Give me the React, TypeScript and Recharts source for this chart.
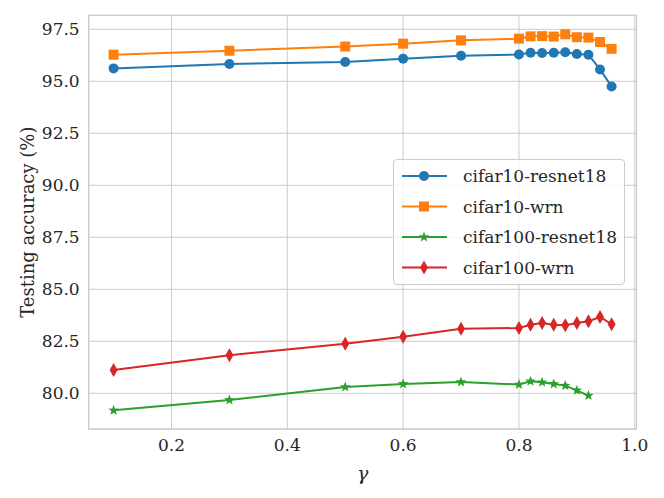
import { CartesianGrid, Legend, Line, LineChart, ReferenceArea, XAxis, YAxis } from "recharts";

const gammas = [0.1, 0.3, 0.5, 0.6, 0.7, 0.8, 0.82, 0.84, 0.86, 0.88, 0.9, 0.92, 0.94, 0.96];
const cifar10Resnet18 = [95.62, 95.83, 95.93, 96.09, 96.23, 96.29, 96.37, 96.36, 96.37, 96.4, 96.31, 96.28, 95.57, 94.75];
const cifar10Wrn = [96.28, 96.47, 96.67, 96.81, 96.97, 97.05, 97.16, 97.17, 97.15, 97.26, 97.12, 97.1, 96.89, 96.56];
const cifar100Resnet18 = [79.18, 79.68, 80.3, 80.45, 80.54, 80.42, 80.58, 80.53, 80.45, 80.37, 80.14, 79.89, null, null];
const cifar100Wrn = [81.12, 81.83, 82.38, 82.72, 83.1, 83.14, 83.3, 83.38, 83.3, 83.27, 83.38, 83.46, 83.67, 83.32];

const xTicks = [0.2, 0.4, 0.6, 0.8, 1.0];
const yTicks = [80, 82.5, 85, 87.5, 90, 92.5, 95, 97.5];

const X_DOMAIN = [0.057, 1.003];
const Y_DOMAIN = [78.284, 98.173];

const FONT = "DejaVu Serif";
const TEXT = "#262626";
const GRID = "#cccccc";

const data = gammas.map((g, i) => ({
  gamma: g,
  c10r18: cifar10Resnet18[i],
  c10wrn: cifar10Wrn[i],
  c100r18: cifar100Resnet18[i],
  c100wrn: cifar100Wrn[i],
}));

type Shape = "circle" | "square" | "star" | "diamond";

const series: { key: string; name: string; color: string; shape: Shape }[] = [
  { key: "c10r18", name: "cifar10-resnet18", color: "#1f77b4", shape: "circle" },
  { key: "c10wrn", name: "cifar10-wrn", color: "#ff7f0e", shape: "square" },
  { key: "c100r18", name: "cifar100-resnet18", color: "#2ca02c", shape: "star" },
  { key: "c100wrn", name: "cifar100-wrn", color: "#d62728", shape: "diamond" },
];

function starPoints(cx: number, cy: number, ro: number, ri: number) {
  const pts: string[] = [];
  for (let k = 0; k < 10; k++) {
    const r = k % 2 === 0 ? ro : ri;
    const a = -Math.PI / 2 + (k * Math.PI) / 5;
    pts.push(`${cx + r * Math.cos(a)},${cy + r * Math.sin(a)}`);
  }
  return pts.join(" ");
}

function Marker({ cx, cy, shape, color }: { cx: number; cy: number; shape: Shape; color: string }) {
  if (shape === "circle") return <circle cx={cx} cy={cy} r={5} fill={color} />;
  if (shape === "square") return <rect x={cx - 5} y={cy - 5} width={10} height={10} fill={color} />;
  if (shape === "star") return <polygon points={starPoints(cx, cy, 5.5, 2.3)} fill={color} />;
  return <polygon points={`${cx},${cy - 7} ${cx + 4},${cy} ${cx},${cy + 7} ${cx - 4},${cy}`} fill={color} />;
}

function makeDot(shape: Shape, color: string) {
  return (props: any) => {
    const { cx, cy, index, value } = props;
    if (value == null || cx == null || cy == null) return <g key={`e-${index}`} />;
    return (
      <g key={`d-${index}`}>
        <Marker cx={cx} cy={cy} shape={shape} color={color} />
      </g>
    );
  };
}

function LegendBox() {
  return (
    <div
      style={{
        width: 232,
        height: 126,
        boxSizing: "border-box",
        border: `1px solid ${GRID}`,
        borderRadius: 4,
        background: "rgba(255,255,255,0.8)",
      }}
    >
      <svg width={230} height={124}>
        {series.map((s, i) => {
          const y = 16 + i * 30.5;
          return (
            <g key={s.key}>
              <line x1={8} x2={53} y1={y} y2={y} stroke={s.color} strokeWidth={2} />
              <Marker cx={30} cy={y} shape={s.shape} color={s.color} />
              <text x={69} y={y + 6} fontFamily={FONT} fontSize={17} fill={TEXT}>
                {s.name}
              </text>
            </g>
          );
        })}
      </svg>
    </div>
  );
}

export default function App() {
  return (
    <div style={{ position: "fixed", left: 0, top: 0, width: 664, height: 498, background: "#fff" }}>
      <LineChart width={664} height={498} data={data} margin={{ top: 15.3, right: 27.5, bottom: 0, left: 0 }}>
        <CartesianGrid stroke={GRID} strokeWidth={1} />
        <XAxis
          dataKey="gamma"
          type="number"
          domain={X_DOMAIN}
          ticks={xTicks}
          tickFormatter={(v: number) => v.toFixed(1)}
          height={69}
          axisLine={false}
          tickLine={false}
          tickSize={0}
          tickMargin={10}
          tick={{ fill: TEXT, fontFamily: FONT, fontSize: 17 }}
          allowDataOverflow
          label={{ value: "γ", position: "insideBottom", offset: 18, fill: TEXT, fontFamily: FONT, fontSize: 19, fontStyle: "italic" }}
        />
        <YAxis
          type="number"
          domain={Y_DOMAIN}
          ticks={yTicks}
          tickFormatter={(v: number) => v.toFixed(1)}
          width={88.7}
          axisLine={false}
          tickLine={false}
          tickSize={0}
          tickMargin={9}
          tick={{ fill: TEXT, fontFamily: FONT, fontSize: 17 }}
          allowDataOverflow
          label={{
            value: "Testing accuracy (%)",
            angle: -90,
            position: "center",
            dx: -17,
            fill: TEXT,
            fontFamily: FONT,
            fontSize: 18,
          }}
        />
        <ReferenceArea
          x1={X_DOMAIN[0]}
          x2={X_DOMAIN[1]}
          y1={Y_DOMAIN[0]}
          y2={Y_DOMAIN[1]}
          fill="none"
          stroke={GRID}
          strokeWidth={1.25}
          ifOverflow="visible"
        />
        {series.map((s) => (
          <Line
            key={s.key}
            dataKey={s.key}
            name={s.name}
            stroke={s.color}
            strokeWidth={2}
            dot={makeDot(s.shape, s.color)}
            activeDot={false}
            isAnimationActive={false}
            type="linear"
          />
        ))}
        <Legend
          layout="vertical"
          align="center"
          verticalAlign="middle"
          content={() => <LegendBox />}
          wrapperStyle={{ left: 393, top: 159, width: 232 }}
        />
      </LineChart>
    </div>
  );
}
